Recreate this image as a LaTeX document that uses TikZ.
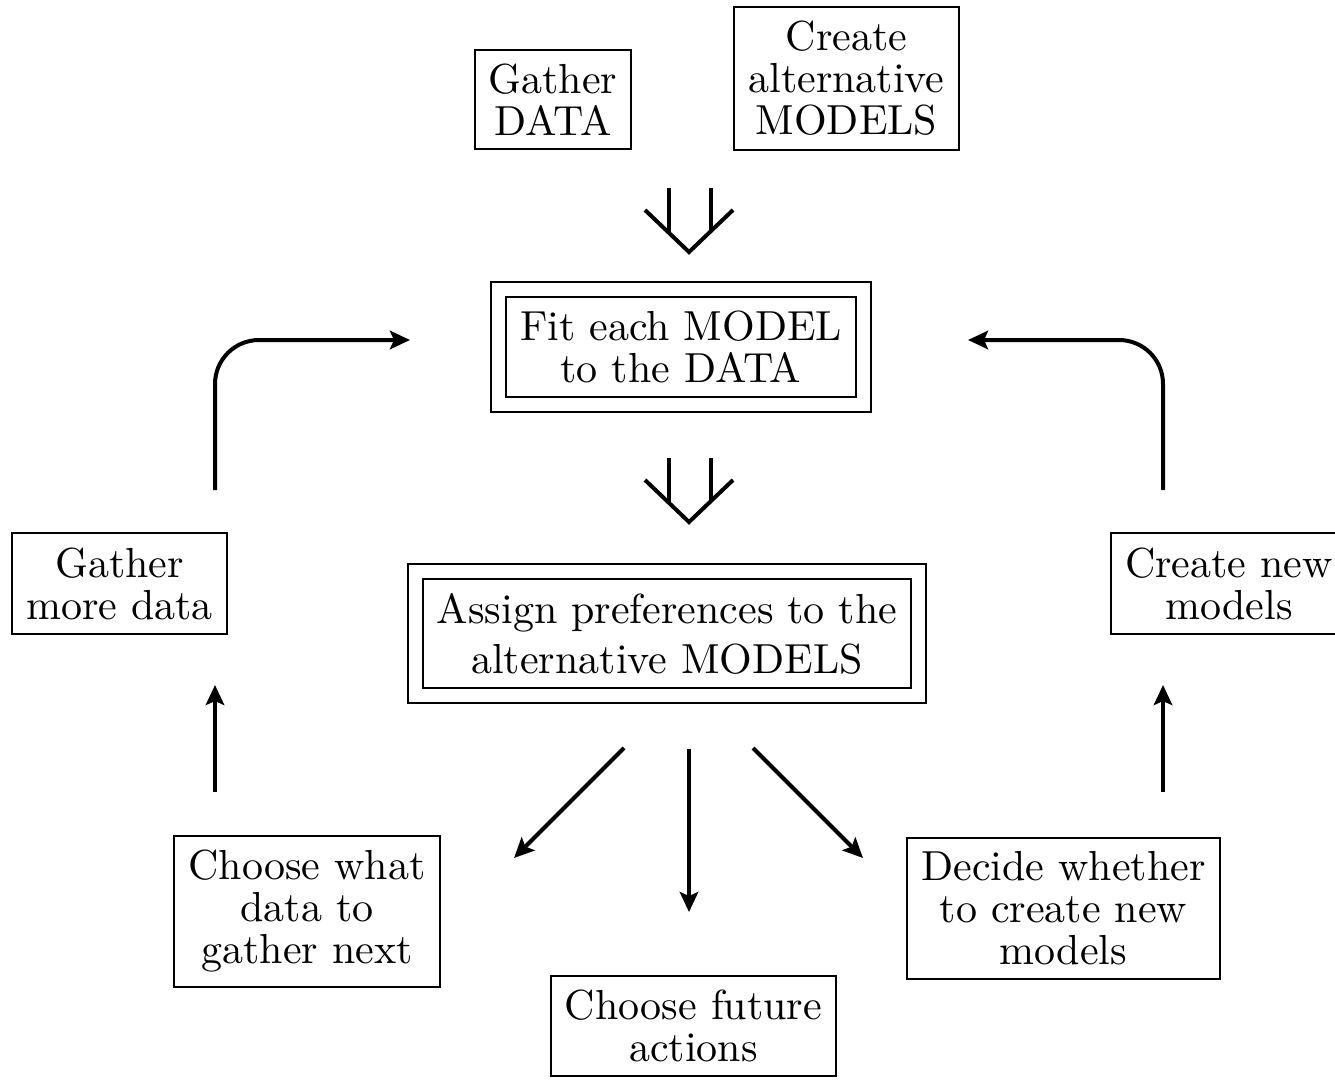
\documentclass[tikz,border=0pt]{standalone}
\usetikzlibrary{arrows.meta}
\tikzstyle{box} = [rectangle, draw, line width=0.5pt, align=center, inner sep=3.5pt]
\tikzstyle{dbox} = [box, double, double distance=3.2pt, inner sep=5.3pt]

\begin{document}
\begin{tikzpicture}[x=0.25pt,y=-0.25pt,>={Stealth[length=5pt,width=4.6pt,inset=1pt]},
  line width=1pt,font=\fontsize{10.5}{10.5}\selectfont]
  \useasboundingbox (0,0) rectangle (1335,1080);
  \node[box] (data) at (553,99.5) {Gather\\DATA};
  \node[box] (models) at (846.5,78.5) {Create\\alternative\\MODELS};
  \node[dbox] (fit) at (681,347) {Fit each MODEL\\to the DATA};
  \node[dbox] (assign) at (667,633.5) {Assign preferences to the\\[2pt]alternative MODELS};
  \node[box] (more) at (119.5,583.5) {Gather\\more data};
  \node[box] (new) at (1229,583.5) {Create new\\models};
  \node[box] (what) at (307,911.5) {Choose what\\data to\\gather next};
  \node[box] (future) at (693.5,1026) {Choose future\\actions};
  \node[box] (decide) at (1063.5,908.5) {Decide whether\\to create new\\models};

  % arrow ends
  \coordinate (tip1) at (689,252);
  \coordinate (tip2) at (689,522);
  \coordinate (l_from) at (215,490);
  \coordinate (l_to) at (410,340);
  \coordinate (r_from) at (1163,490);
  \coordinate (r_to) at (968,340);
  \coordinate (lu_from) at (215,792);
  \coordinate (lu_to) at (215,685);
  \coordinate (ru_from) at (1163,792);
  \coordinate (ru_to) at (1163,685);
  \coordinate (a_from) at (624,748);
  \coordinate (a_to) at (514,858);
  \coordinate (b_from) at (689,749);
  \coordinate (b_to) at (689,912);
  \coordinate (c_from) at (753,748);
  \coordinate (c_to) at (863,858);

  % double arrows
  \draw (tip1) ++(-44,-42) -- (tip1) -- ++(44,-42);
  \draw (tip1) ++(-20,-19) -- ++(0,-45);
  \draw (tip1) ++(22,-20) -- ++(0,-44);
  \draw (tip2) ++(-44,-42) -- (tip2) -- ++(44,-42);
  \draw (tip2) ++(-20,-19) -- ++(0,-45);
  \draw (tip2) ++(22,-20) -- ++(0,-44);

  \draw[->,rounded corners=11pt] (l_from) |- (l_to);
  \draw[->,rounded corners=11pt] (r_from) |- (r_to);
  \draw[->] (lu_from) -- (lu_to);
  \draw[->] (ru_from) -- (ru_to);
  \draw[->] (a_from) -- (a_to);
  \draw[->] (b_from) -- (b_to);
  \draw[->] (c_from) -- (c_to);
\end{tikzpicture}
\end{document}
